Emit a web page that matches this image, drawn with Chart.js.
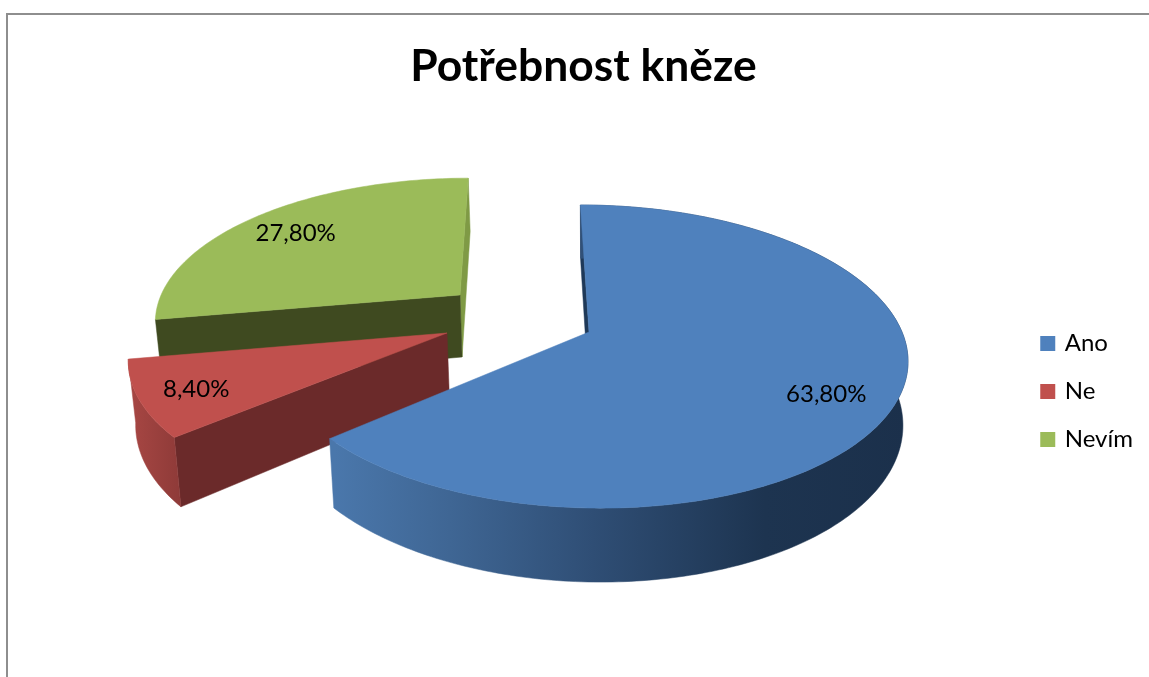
<!DOCTYPE html>
<html>
<head>
<meta charset="utf-8">
<style>html,body{margin:0;padding:0;background:#fff}canvas{display:block}</style>
<script src="https://cdn.jsdelivr.net/npm/chart.js@4"></script>
</head>
<body>
<canvas id="c" width="1149" height="677"></canvas>
<script>
const titleText = "Potřebnost kněze";
const categories = ["Ano", "Ne", "Nevím"];
const shares = [63.8, 8.4, 27.8];
const shareLabels = ["63,80%", "8,40%", "27,80%"];
const topColors = ["#4f81bd", "#c0504d", "#9bbb59"];

// perspective of the tilted disc
const view = {A: 313, B: 147.6, k: 0.162, depth: 62, vx: 590, conv: 0.016};
const legendShiftY = 36;
// where each exploded slice sits and how it is shaded
const sliceStyle = [
  {ax: 589, ay: 332, sx: 1, sy: 1, skew: 10, startWall: "#1f3958", endWall: null,
   outer: [[0,"#4a77ab"],[0.2,"#3f6694"],[0.45,"#2f4e75"],[0.75,"#1d3450"],[1,"#1b304b"]], x0: 335, x1: 908,
   nudge: [19, 15]},
  {ax: 447, ay: 333, sx: 1, sy: 0.98, skew: -8.5, startWall: "#6b2a2a", endWall: null,
   outer: [[0,"#a84744"],[1,"#8e3a38"]], x0: 128, x1: 181,
   nudge: [-33.5, 10]},
  {ax: 460, ay: 295, sx: 0.955, sy: 0.92, skew: -10, startWall: "#3f4a20", endWall: "#7f9a45",
   outer: [[0,"#7f9a45"],[1,"#7f9a45"]], x0: 155, x1: 469,
   nudge: [-15, -3]}
];

function project(st, th, r) {
  const a = r * Math.sin(th), b = r * Math.cos(th), w = 1 + view.k * b;
  return {
    x: st.ax + st.sx * (view.A * a - st.skew * b) / w,
    y: st.ay - st.sy * view.B * b / w,
    w
  };
}
function lower(p) {
  return {x: p.x + (view.vx - p.x) * view.conv, y: p.y + view.depth / p.w};
}
function poly(ctx, pts, fill) {
  ctx.beginPath();
  pts.forEach((p, i) => i ? ctx.lineTo(p.x, p.y) : ctx.moveTo(p.x, p.y));
  ctx.closePath();
  ctx.fillStyle = fill;
  ctx.fill();
  ctx.strokeStyle = fill;
  ctx.lineWidth = 0.5;
  ctx.stroke();
}
function arcPoints(st, t0, t1) {
  const out = [], n = Math.max(8, Math.ceil((t1 - t0) * 60));
  for (let i = 0; i <= n; i++) out.push(project(st, t0 + (t1 - t0) * i / n, 1));
  return out;
}

const pie3d = {
  id: "pie3d",
  afterLayout(chart) {
    chart.legend.top += legendShiftY;
    chart.legend.bottom += legendShiftY;
  },
  beforeDraw(chart) {
    const ctx = chart.ctx;
    ctx.save();
    ctx.fillStyle = "#ffffff";
    ctx.fillRect(0, 0, chart.width, chart.height);
    ctx.fillStyle = "#8e8e8e";
    ctx.fillRect(6, 13, chart.width - 6, 2);
    ctx.fillRect(6, 13, 2, chart.height - 13);
    ctx.restore();
  },
  beforeDatasetDraw() { return false; },
  afterDatasetsDraw(chart) {
    const ctx = chart.ctx, arcs = chart.getDatasetMeta(0).data;
    ctx.save();
    [2, 1, 0].forEach(i => {
      const st = sliceStyle[i], el = arcs[i];
      const t0 = el.startAngle + Math.PI / 2, t1 = el.endAngle + Math.PI / 2;
      const apex = project(st, 0, 0), edge = arcPoints(st, t0, t1);
      const first = edge[0], last = edge[edge.length - 1];
      // outer rim
      const g = ctx.createLinearGradient(st.x0, 0, st.x1, 0);
      st.outer.forEach(s => g.addColorStop(s[0], s[1]));
      // flat radial walls
      if (i === 2) poly(ctx, [last, lower(last), lower(apex), apex], st.endWall);
      poly(ctx, [first, lower(first), lower(apex), apex], st.startWall);
      if (i !== 2) poly(ctx, edge.concat(edge.slice().reverse().map(lower)), g);
      // top face
      poly(ctx, [apex].concat(edge), topColors[i]);
    });
    // value labels
    ctx.fillStyle = "#000";
    ctx.font = "24px Lato";
    ctx.textAlign = "center";
    ctx.textBaseline = "middle";
    arcs.forEach((el, i) => {
      const st = sliceStyle[i];
      const mid = (el.startAngle + el.endAngle) / 2 + Math.PI / 2;
      const p = project(st, mid, 0.72);
      ctx.fillText(shareLabels[i], p.x + st.nudge[0], p.y + st.nudge[1]);
    });
    ctx.restore();
  }
};

new Chart(document.getElementById("c"), {
  type: "pie",
  data: {
    labels: categories,
    datasets: [{data: shares, backgroundColor: topColors, borderWidth: 0}]
  },
  plugins: [pie3d],
  options: {
    responsive: false,
    animation: false,
    layout: {padding: {left: 24, right: 6, top: 34, bottom: 0}},
    plugins: {
      tooltip: {enabled: false},
      title: {
        display: true, text: titleText, color: "#000",
        font: {family: "Lato", size: 44.4, weight: "bold"},
        padding: {top: 6, bottom: 80}
      },
      legend: {
        position: "right",
        labels: {
          color: "#000",
          font: {family: "Lato", size: 24},
          boxWidth: 10, boxHeight: 10, padding: 24,
          generateLabels(chart) {
            return categories.map((c, i) => ({
              text: c, fillStyle: topColors[i], strokeStyle: topColors[i],
              lineWidth: 5, index: i, hidden: false
            }));
          }
        }
      }
    }
  }
});
</script>
</body>
</html>
